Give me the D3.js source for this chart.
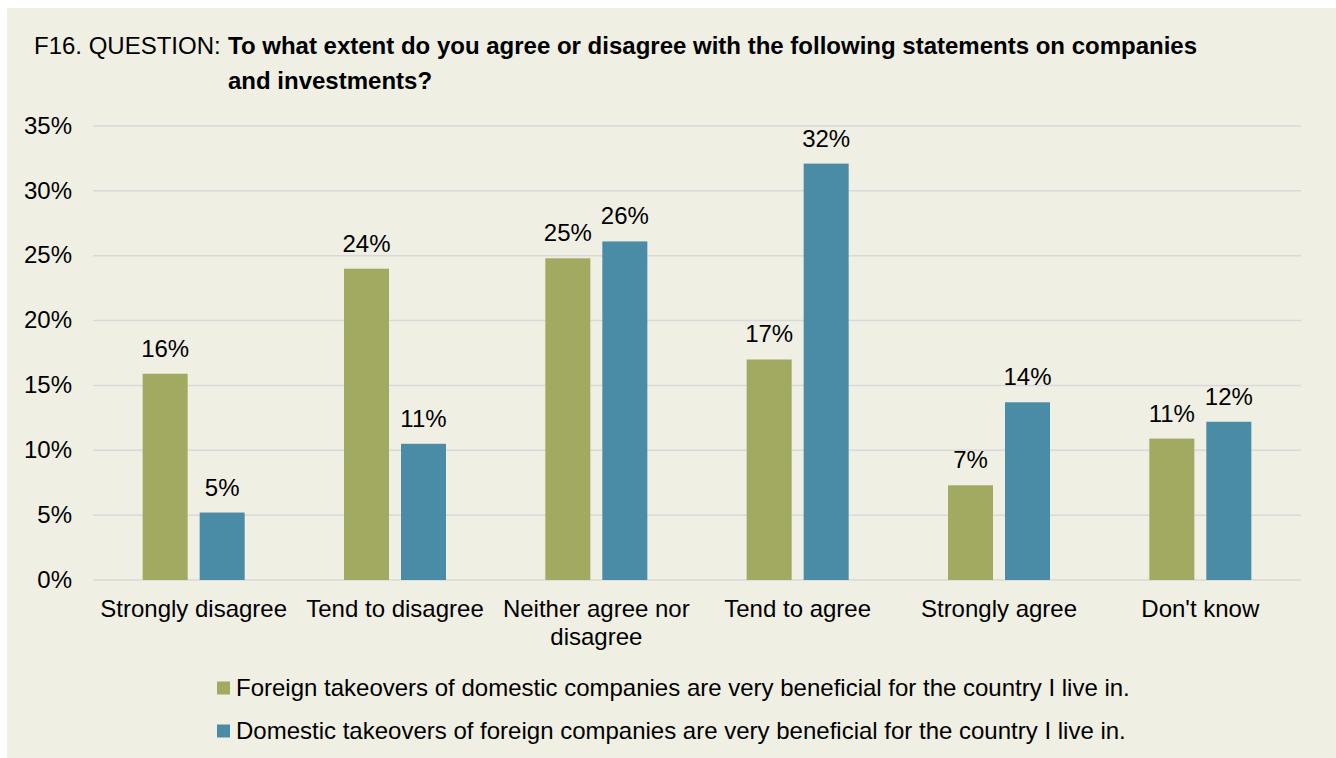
<!DOCTYPE html>
<html><head><meta charset="utf-8">
<script src="https://cdn.jsdelivr.net/npm/d3@7"></script>
<style>html,body{margin:0;padding:0;background:#fff;}svg{display:block;font-family:"Liberation Sans",Arial,sans-serif;}</style>
</head><body><svg id="c" width="1336" height="758"></svg>
<script>
const categories = ["Strongly disagree","Tend to disagree","Neither agree nor disagree","Tend to agree","Strongly agree","Don't know"];
const seriesNames = ["Foreign takeovers of domestic companies are very beneficial for the country I live in.",
                     "Domestic takeovers of foreign companies are very beneficial for the country I live in."];
const foreignValues = [15.9, 24.0, 24.8, 17.0, 7.3, 10.9];
const domesticValues = [5.2, 10.5, 26.1, 32.1, 13.7, 12.2];
const yTicks = [0,5,10,15,20,25,30,35];
const colors = ["#A2AA62","#4A8BA6"];

(function(){
const FS = 24;
const svg = d3.select("#c");
svg.append("rect").attr("x",7).attr("y",8).attr("width",1329).attr("height",750).attr("fill","#EFEFE4");

const pLeft=93, pRight=1301, pTop=126, pBottom=580;
const x = d3.scaleBand().domain(categories).range([pLeft,pRight]).paddingInner(0).paddingOuter(0);
const y = d3.scaleLinear().domain([0,35]).range([pBottom,pTop]);

// title
const t = svg.append("text").attr("y",54).attr("font-size",FS).attr("fill","#000");
t.append("tspan").attr("x",34).text("F16. QUESTION:");
t.append("tspan").attr("x",228).attr("font-weight","bold").text("To what extent do you agree or disagree with the following statements on companies");
svg.append("text").attr("x",228).attr("y",89).attr("font-size",FS).attr("font-weight","bold").text("and investments?");

// grid
svg.append("g").selectAll("line").data(yTicks).join("line")
  .attr("x1",pLeft).attr("x2",pRight).attr("y1",d=>y(d)).attr("y2",d=>y(d))
  .attr("stroke","#D9D9D9").attr("stroke-width",1.5);

// y axis
const yAxis = d3.axisLeft(y).tickValues(yTicks).tickFormat(d=>d+"%").tickSize(0).tickPadding(0);
const ya = svg.append("g").attr("transform",`translate(72,0)`).call(yAxis);
ya.select(".domain").remove();
ya.selectAll("text").attr("font-size",FS).attr("fill","#000").attr("font-family","Liberation Sans, Arial, sans-serif").attr("text-anchor","end").attr("dy","0.3em");

// x axis labels
const xLabels = [["Strongly disagree"],["Tend to disagree"],["Neither agree nor","disagree"],["Tend to agree"],["Strongly agree"],["Don't know"]];
categories.forEach((c,i)=>{
  const cx = x(c)+x.bandwidth()/2;
  const tx = svg.append("text").attr("x",cx).attr("y",617).attr("font-size",FS).attr("text-anchor","middle").attr("fill","#000");
  xLabels[i].forEach((l,j)=>tx.append("tspan").attr("x",cx).attr("dy",j===0?0:28).text(l));
});

// bars
const barW=45, gap=12;
const series=[foreignValues,domesticValues];
series.forEach((vals,s)=>{
  const g=svg.append("g");
  const bx = (c)=> x(c)+x.bandwidth()/2 + (s===0 ? -gap/2-barW : gap/2);
  g.selectAll("rect").data(categories).join("rect")
    .attr("x",c=>bx(c)).attr("width",barW)
    .attr("y",(c,i)=>y(vals[i])).attr("height",(c,i)=>y(0)-y(vals[i]))
    .attr("fill",colors[s]);
  g.selectAll("text").data(categories).join("text")
    .attr("x",c=>bx(c)+barW/2).attr("y",(c,i)=>y(vals[i])-17)
    .attr("text-anchor","middle").attr("font-size",FS).attr("fill","#000")
    .text((c,i)=>Math.round(vals[i])+"%");
});

// legend
seriesNames.forEach((n,i)=>{
  const ly = 688 + i*43;
  svg.append("rect").attr("x",217).attr("y",ly-6.5).attr("width",13).attr("height",13).attr("fill",colors[i]);
  svg.append("text").attr("x",236).attr("y",ly).attr("dy","0.35em").attr("font-size",FS).attr("fill","#000").text(n);
});
})();
</script></body></html>
